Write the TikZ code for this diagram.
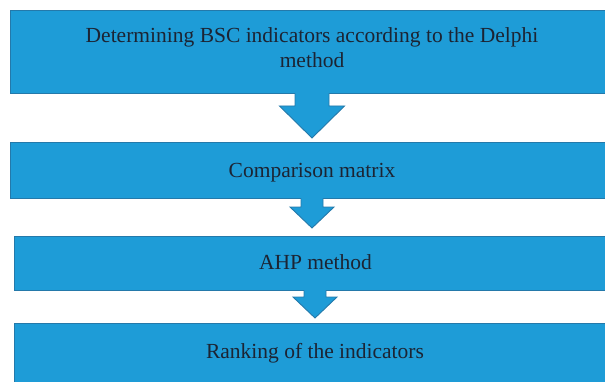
\documentclass[tikz,border=0pt]{standalone}
\usepackage{fontspec}
\setmainfont{Liberation Serif}
\usetikzlibrary{calc}
\definecolor{boxfill}{HTML}{1E9CD7}
\definecolor{boxline}{HTML}{2479AA}
\definecolor{txt}{HTML}{1C2433}
\tikzset{
  stepbox/.style={draw=boxline, line width=0.9pt, fill=boxfill, anchor=north west,
    inner sep=0pt},
  steptext/.style={text=txt, font=\fontsize{21.5}{25}\selectfont, align=center, anchor=base, inner sep=0pt},
  arrowfill/.style={fill=boxfill},
  arrowline/.style={draw=boxline, line width=0.9pt, line join=miter}
}
\newcommand{\blockarrow}[6]{% top anchor x, top y, half shaft, shaft bottom y, half head, tip y
  \fill[arrowfill] (#1-#3,#2+1) -- (#1-#3,#4) -- (#1-#5,#4) -- (#1,#6) -- (#1+#5,#4) -- (#1+#3,#4) -- (#1+#3,#2+1) -- cycle;
  \draw[arrowline] (#1-#3,#2-0.45) -- (#1-#3,#4) -- (#1-#5,#4) -- (#1,#6) -- (#1+#5,#4) -- (#1+#3,#4) -- (#1+#3,#2-0.45);
}
\begin{document}
\begin{tikzpicture}[x=1pt,y=1pt]
\useasboundingbox (0,0) rectangle (605,381);
\clip (0,0) rectangle (605,381);
\node[stepbox, minimum width=610pt, minimum height=83pt] (b1) at (10,371) {};
\node[steptext] (t1) at (312,313) {Determining BSC indicators according to the Delphi\\method};
\node[stepbox, minimum width=610pt, minimum height=56pt] (b2) at (10,239) {};
\node[steptext] (t2) at (312,204) {Comparison matrix};
\node[stepbox, minimum width=606pt, minimum height=54pt] (b3) at (14,145) {};
\node[steptext] (t3) at (315.5,112) {AHP method};
\node[stepbox, minimum width=606pt, minimum height=62pt] (b4) at (14,58) {};
\node[steptext] (t4) at (315,23) {Ranking of the indicators};
\blockarrow{312}{288}{17}{275}{32.5}{243}
\blockarrow{312}{183}{11}{174}{22}{153}
\blockarrow{315}{91}{11}{84}{22}{63}
\end{tikzpicture}
\end{document}
